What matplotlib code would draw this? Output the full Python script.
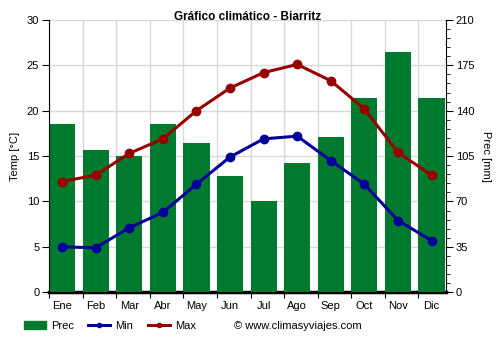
import numpy as np
import matplotlib
matplotlib.use("Agg")
import matplotlib.pyplot as plt
from matplotlib.patches import Patch
from matplotlib.lines import Line2D

plt.rcParams['font.family'] = ['Liberation Sans', 'DejaVu Sans']
plt.rcParams['font.size'] = 8

# datos
meses = ["Ene", "Feb", "Mar", "Abr", "May", "Jun", "Jul", "Ago", "Sep", "Oct", "Nov", "Dic"]
prec = [130, 110, 105, 130, 115, 90, 70, 100, 120, 150, 185, 150]
t_min = [5.0, 4.9, 7.1, 8.8, 11.9, 14.9, 16.9, 17.2, 14.5, 11.9, 7.9, 5.7]
t_max = [12.2, 12.9, 15.3, 16.9, 20.0, 22.5, 24.2, 25.1, 23.3, 20.2, 15.4, 12.9]

verde = '#007a2f'
azul = '#000099'
rojo = '#990000'

fig = plt.figure(figsize=(5, 3.5), dpi=100)
ax = fig.add_axes([0.098, 0.165, 0.794, 0.778])
ax2 = ax.twinx()
ax.set_zorder(ax2.get_zorder() + 1)
ax.patch.set_visible(False)

x = np.arange(len(meses))
bordes = x - 0.39

# precipitacion (eje derecho, detras)
ax2.bar(x, prec, width=0.78, color=verde, zorder=3)
for b in bordes:
    ax2.axvline(b, color='#d9d9d9', lw=1, zorder=0)
ax2.set_ylim(0, 210)
ax2.set_yticks(np.arange(0, 211, 35))
ax2.set_yticks(np.arange(0, 211, 7), minor=True)
ax2.yaxis.grid(True, color='#d9d9d9', lw=1, zorder=0)
ax2.set_axisbelow(True)
ax2.spines['bottom'].set_linewidth(2.5)
ax2.spines['top'].set_visible(False)
ax2.spines['left'].set_visible(False)
ax2.tick_params(axis='y', which='major', length=5, pad=2)
ax2.tick_params(axis='y', which='minor', length=3)
ax2.set_ylabel("Prec [mm]", rotation=270, labelpad=12)

# temperaturas (eje izquierdo, delante)
ax.plot(x, t_min, color=azul, lw=2.2, marker='o', ms=6, zorder=5)
ax.plot(x, t_max, color=rojo, lw=2.2, marker='o', ms=6, zorder=5)
ax.set_ylim(0, 30)
ax.set_yticks(np.arange(0, 31, 5))
ax.set_xlim(-0.39, 11.43)
ax.set_xticks(bordes)
ax.set_xticklabels([])
ax.set_xticks(x, minor=True)
ax.set_xticklabels(meses, minor=True)
ax.tick_params(axis='x', which='minor', length=0, pad=6)
ax.tick_params(axis='x', which='major', length=4)
ax.tick_params(axis='y', length=5, pad=2)
ax.spines['top'].set_visible(False)
ax.spines['right'].set_visible(False)
ax.spines['bottom'].set_visible(False)
ax.set_ylabel("Temp [°C]", labelpad=5)

fig.text(0.496, 0.951, "Gráfico climático - Biarritz", ha='center', va='center',
         fontsize=8.5, fontweight='bold')

handles = [Patch(color=verde),
           Line2D([0], [0], color=azul, lw=2.2, marker='o', ms=3),
           Line2D([0], [0], color=rojo, lw=2.2, marker='o', ms=3)]
fig.legend(handles, ["Prec", "Min", "Max"], loc='center left',
           bbox_to_anchor=(0.027, 0.069), ncol=3, frameon=False,
           handlelength=2.0, handletextpad=0.45, columnspacing=1.3, fontsize=8)
fig.text(0.468, 0.069, "© www.climasyviajes.com", va='center', fontsize=8)

fig.savefig("out.png", dpi=100)
